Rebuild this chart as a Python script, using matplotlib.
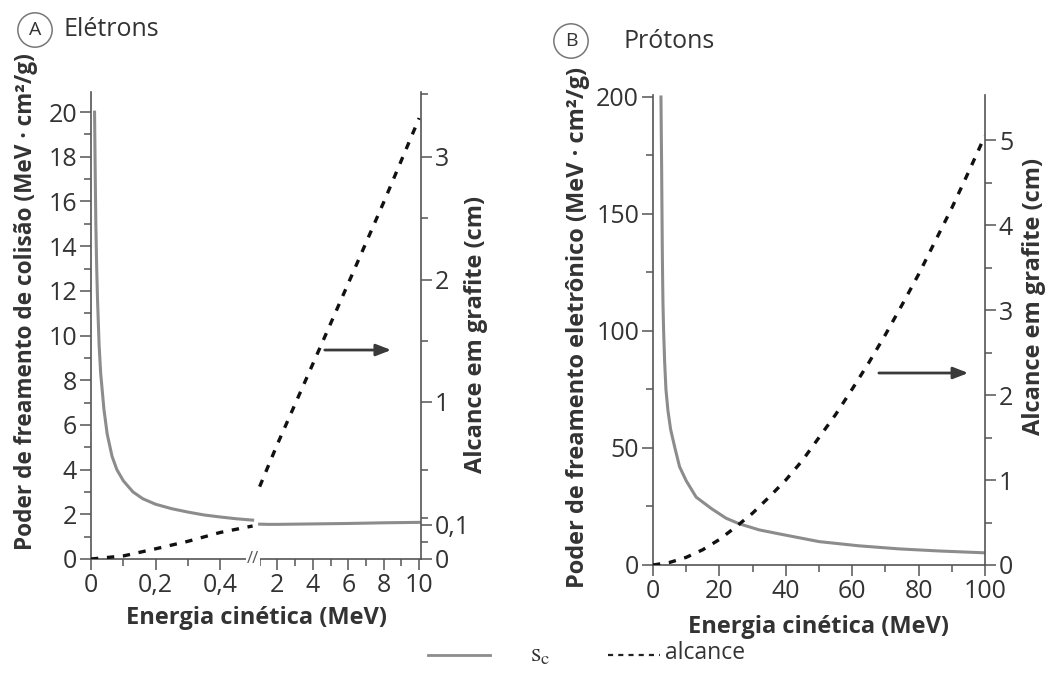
import numpy as np
import matplotlib
matplotlib.use("Agg")
import matplotlib.pyplot as plt
from matplotlib.lines import Line2D

plt.rcParams['font.family'] = ['Open Sans', 'DejaVu Sans']
plt.rcParams['mathtext.fontset'] = 'stix'

# ---- dados ----
# A - elétrons, parte de baixa energia (0 a 0,5 MeV)
e_low = [0.011, 0.013, 0.015, 0.0175, 0.02, 0.025, 0.03, 0.04, 0.05, 0.065, 0.08,
         0.1, 0.13, 0.16, 0.2, 0.25, 0.3, 0.35, 0.4, 0.45, 0.5]
sc_e_low = [20.0, 17.3, 15.0, 13.1, 11.7, 9.6, 8.3, 6.7, 5.6, 4.6, 4.0,
            3.5, 3.0, 2.7, 2.45, 2.25, 2.1, 1.97, 1.88, 1.8, 1.74]
e_low_r = [0.0, 0.1, 0.2, 0.3, 0.4, 0.5]
alc_e_low = [0.0, 0.009, 0.03, 0.052, 0.078, 0.097]
# A - elétrons, parte de alta energia (1 a 10 MeV)
e_high = [1, 1.5, 2, 3, 4, 6, 8, 10]
sc_e_high = [1.56, 1.55, 1.55, 1.56, 1.57, 1.59, 1.62, 1.64]
e_high_r = [1, 2, 4, 6, 8, 10]
alc_e_high = [0.38, 0.69, 1.31, 1.97, 2.63, 3.31]

# B - prótons
e_p = [2.4, 2.5, 2.6, 2.7, 2.8, 2.9, 3.0, 3.2, 3.5, 3.9, 4.5, 5.3, 6.6, 8, 10,
       13, 17.7, 22, 26, 32, 38, 50, 62, 74, 86, 100]
sc_p = [200, 184, 170, 152, 135, 122, 112, 100, 87, 75, 66, 58, 50, 42, 36,
        29, 24, 20, 17.6, 15, 13.3, 10, 8.2, 6.9, 6.0, 5.2]
e_p_r = [0, 5, 10, 15, 20, 25, 30, 35, 40, 45, 50, 55, 60, 65, 70, 75, 80,
         85, 90, 95, 100]
alc_p = [0, 0.03, 0.09, 0.18, 0.30, 0.45, 0.61, 0.80, 1.0, 1.23, 1.5, 1.77,
         2.07, 2.38, 2.71, 3.06, 3.42, 3.81, 4.2, 4.62, 5.05]

# escalas quebradas do painel A
xa_pts = [0, 0.5, 1, 10, 11]
xa_pix = [0, 161, 168, 327, 344.7]
ya_pts = [0, 0.1, 1, 2, 3, 3.5, 4]
ya_pix = [0, 34, 157, 279, 402, 464, 526]

def fx(v): return np.interp(v, xa_pts, xa_pix)
def fx_inv(v): return np.interp(v, xa_pix, xa_pts)
def fy(v): return np.interp(v, ya_pts, ya_pix)
def fy_inv(v): return np.interp(v, ya_pix, ya_pts)

TXT = '#333333'
SPN = '#555555'
GRAY = '#8c8c8c'
LBL = 17
TCK = 18

fig = plt.figure(figsize=(10.52, 6.93), dpi=100)

def style(ax, right=False):
    ax.spines['top'].set_visible(False)
    if right:
        ax.spines['left'].set_visible(False)
        ax.spines['bottom'].set_visible(False)
    else:
        ax.spines['right'].set_visible(False)
    for s in ax.spines.values():
        s.set_color(SPN)
        s.set_linewidth(1.2)
    ax.tick_params(which='both', colors=SPN, labelcolor=TXT, labelsize=TCK, width=1.1)
    ax.tick_params(which='major', length=8, pad=2)
    ax.tick_params(which='minor', length=5)

# ---------- painel A ----------
axA = fig.add_axes([91/1052, 1-559/693, 330/1052, 467/693])
axA.set_xscale('function', functions=(fx, fx_inv))
axA.plot(e_low, sc_e_low, color=GRAY, lw=2.2)
axA.plot(e_high, sc_e_high, color=GRAY, lw=2.2)
axA.set_xlim(0, 10.1)
axA.set_ylim(0, 20.9)
axA.set_xticks([0, 0.2, 0.4, 2, 4, 6, 8, 10])
axA.set_xticklabels(['0', '0,2', '0,4', '2', '4', '6', '8', '10'])
axA.set_xticks([0.1, 0.3, 1, 3, 5, 7, 9], minor=True)
axA.set_yticks(range(0, 21, 2))
axA.set_yticks(range(1, 20, 2), minor=True)
style(axA)
axA.set_xlabel('Energia cinética (MeV)', fontsize=LBL, fontweight='bold', color=TXT, labelpad=6)
axA.set_ylabel('Poder de freamento de colisão (MeV · cm²/g)', fontsize=16.3,
               fontweight='bold', color=TXT)
axA.yaxis.set_label_coords(-0.16, 0.552)
axA.text(0.52, 0, '//', fontsize=12, color=SPN, ha='center', va='center',
         bbox=dict(fc='white', ec='none', pad=0.5))

axA2 = axA.twinx()
axA2.set_yscale('function', functions=(fy, fy_inv))
axA2.plot(e_low_r, alc_e_low, color='#111111', lw=2.4, ls=(0, (2.2, 2.6)))
axA2.plot(e_high_r, alc_e_high, color='#111111', lw=2.4, ls=(0, (2.2, 2.6)))
axA2.set_ylim(0, 3.52)
axA2.set_yticks([0, 0.1, 1, 2, 3])
axA2.set_yticklabels(['0', '0,1', '1', '2', '3'])
axA2.set_yticks([0.05, 0.15, 0.5, 1.5, 2.5, 3.5], minor=True)
style(axA2, right=True)
axA2.set_ylabel('Alcance em grafite (cm)', fontsize=LBL, fontweight='bold', color=TXT)
axA2.yaxis.set_label_coords(1.13, 0.48)
axA2.annotate('', xy=(0.918, 0.4475), xytext=(0.70, 0.4475), xycoords='axes fraction',
              arrowprops=dict(arrowstyle='-|>,head_length=0.9,head_width=0.35',
                              color='#3a3a3a', lw=2))

# ---------- painel B ----------
axB = fig.add_axes([653/1052, 1-565/693, 332/1052, 470/693])
axB.plot(e_p, sc_p, color=GRAY, lw=2.2)
axB.set_xlim(0, 100)
axB.set_ylim(0, 200.85)
axB.set_xticks(range(0, 101, 20))
axB.set_xticks(range(10, 100, 20), minor=True)
axB.set_yticks(range(0, 201, 50))
axB.set_yticks(range(25, 200, 50), minor=True)
style(axB)
axB.set_xlabel('Energia cinética (MeV)', fontsize=LBL, fontweight='bold', color=TXT, labelpad=8)
axB.set_ylabel('Poder de freamento eletrônico (MeV · cm²/g)', fontsize=LBL,
               fontweight='bold', color=TXT)
axB.yaxis.set_label_coords(-0.19, 0.506)

axB2 = axB.twinx()
axB2.plot(e_p_r, alc_p, color='#111111', lw=2.4, ls=(0, (2.2, 2.6)))
axB2.set_ylim(0, 5.53)
axB2.set_yticks(range(0, 6))
axB2.set_yticks(np.arange(0.5, 5.5, 1), minor=True)
style(axB2, right=True)
axB2.set_ylabel('Alcance em grafite (cm)', fontsize=LBL, fontweight='bold', color=TXT)
axB2.yaxis.set_label_coords(1.11, 0.572)
axB2.annotate('', xy=(0.958, 0.4085), xytext=(0.672, 0.4085), xycoords='axes fraction',
              arrowprops=dict(arrowstyle='-|>,head_length=0.9,head_width=0.35',
                              color='#3a3a3a', lw=2))

# ---------- títulos ----------
circ = dict(boxstyle='circle,pad=0.42', fc='white', ec='#777777', lw=1.1)
fig.text(35/1052, 1-30/693, 'A', fontsize=14, color=TXT, ha='center', va='center', bbox=circ)
fig.text(63/1052, 1-30/693, 'Elétrons', fontsize=18, color=TXT, ha='left', va='center')
fig.text(571/1052, 1-41/693, 'B', fontsize=14, color=TXT, ha='center', va='center', bbox=circ)
fig.text(623/1052, 1-41/693, 'Prótons', fontsize=18, color=TXT, ha='left', va='center')

# ---------- legenda (desenhada à mão) ----------
ly = 1 - 655/693
fig.add_artist(Line2D([428/1052, 490/1052], [ly, ly], color=GRAY, lw=2))
fig.text(530/1052, ly, r'$\mathrm{s_c}$', fontsize=19, color=TXT, ha='left', va='center')
fig.add_artist(Line2D([608/1052, 660/1052], [ly, ly], color='#222222', lw=1.6,
                      ls=(0, (2.3, 2.3))))
fig.text(665/1052, ly + 0.003, 'alcance', fontsize=16.5, color=TXT, ha='left', va='center')

fig.savefig('out.png', dpi=100, facecolor='white')
